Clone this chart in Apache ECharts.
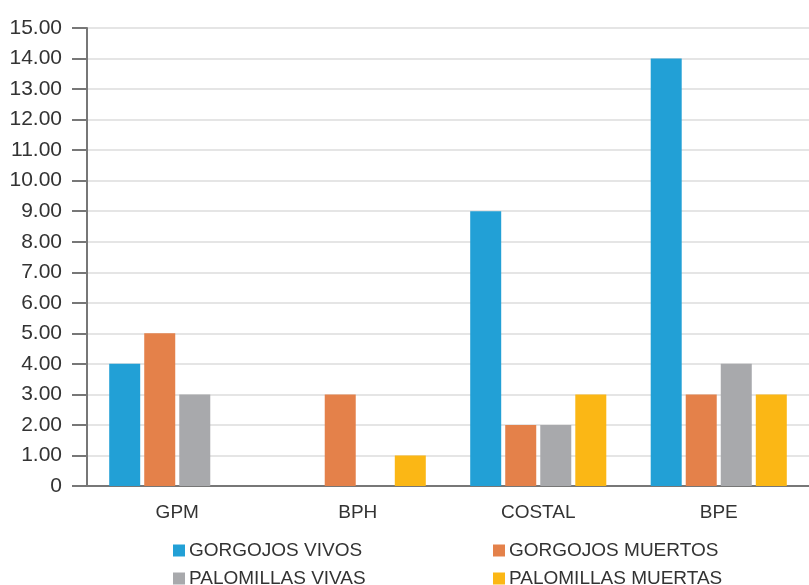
<!DOCTYPE html>
<html>
<head>
<meta charset="utf-8">
<script src="https://cdn.jsdelivr.net/npm/echarts@6/dist/echarts.min.js"></script>
<style>
  html, body { margin: 0; padding: 0; background: #fff; }
  #chart { width: 809px; height: 585px; }
</style>
</head>
<body>
<div id="chart"></div>
<script>
// Categories and series values
const categories = ['GPM', 'BPH', 'COSTAL', 'BPE'];
const gorgojosVivos = [4, 0, 9, 14];
const gorgojosMuertos = [5, 3, 2, 3];
const palomillasVivas = [3, 0, 2, 4];
const palomillasMuertas = [0, 1, 3, 3];
const seriesNames = ['GORGOJOS VIVOS', 'GORGOJOS MUERTOS', 'PALOMILLAS VIVAS', 'PALOMILLAS MUERTAS'];
const yTicks = { min: 0, max: 15, step: 1 };

const colors = ['#22a0d6', '#e4814a', '#a8a9ac', '#fbb715'];
const font = '"Liberation Sans", Arial, Helvetica, sans-serif';
const textColor = '#333333';

const chart = echarts.init(document.getElementById('chart'), null, { renderer: 'canvas' });

const makeSeries = (name, data, color) => ({
  name: name,
  type: 'bar',
  data: data,
  barWidth: 31,
  barGap: '13%',
  itemStyle: { color: color },
  emphasis: { disabled: true }
});

// Two legend columns, each holding two rows
const makeLegend = (left, names) => ({
  orient: 'vertical',
  left: left,
  top: 536,
  height: 120,
  data: names,
  icon: 'rect',
  itemWidth: 12,
  itemHeight: 12,
  itemGap: 9,
  textStyle: { color: textColor, fontFamily: font, fontSize: 19, padding: [0, 0, 0, -1] },
  selectedMode: false
});

chart.setOption({
  animation: false,
  color: colors,
  grid: { left: 87, right: 0, top: 28, bottom: 99, containLabel: false },
  xAxis: {
    type: 'category',
    data: categories,
    axisTick: { show: false },
    axisLine: { lineStyle: { color: '#777', width: 2 } },
    axisLabel: { color: textColor, fontFamily: font, fontSize: 19, margin: 17 }
  },
  yAxis: {
    type: 'value',
    min: yTicks.min,
    max: yTicks.max,
    interval: yTicks.step,
    axisLine: { show: true, lineStyle: { color: '#777', width: 2 } },
    axisTick: { show: true, length: 15, lineStyle: { color: '#777', width: 2 } },
    splitLine: { lineStyle: { color: '#dcdcdc', width: 1.5 } },
    axisLabel: {
      color: textColor,
      fontFamily: font,
      fontSize: 21,
      margin: 25,
      formatter: v => (v === 0 ? '0' : v.toFixed(2))
    }
  },
  legend: [
    makeLegend(168, [seriesNames[0], seriesNames[2]]),
    makeLegend(488, [seriesNames[1], seriesNames[3]])
  ],
  series: [
    makeSeries(seriesNames[0], gorgojosVivos, colors[0]),
    makeSeries(seriesNames[1], gorgojosMuertos, colors[1]),
    makeSeries(seriesNames[2], palomillasVivas, colors[2]),
    makeSeries(seriesNames[3], palomillasMuertas, colors[3])
  ]
});
</script>
</body>
</html>
